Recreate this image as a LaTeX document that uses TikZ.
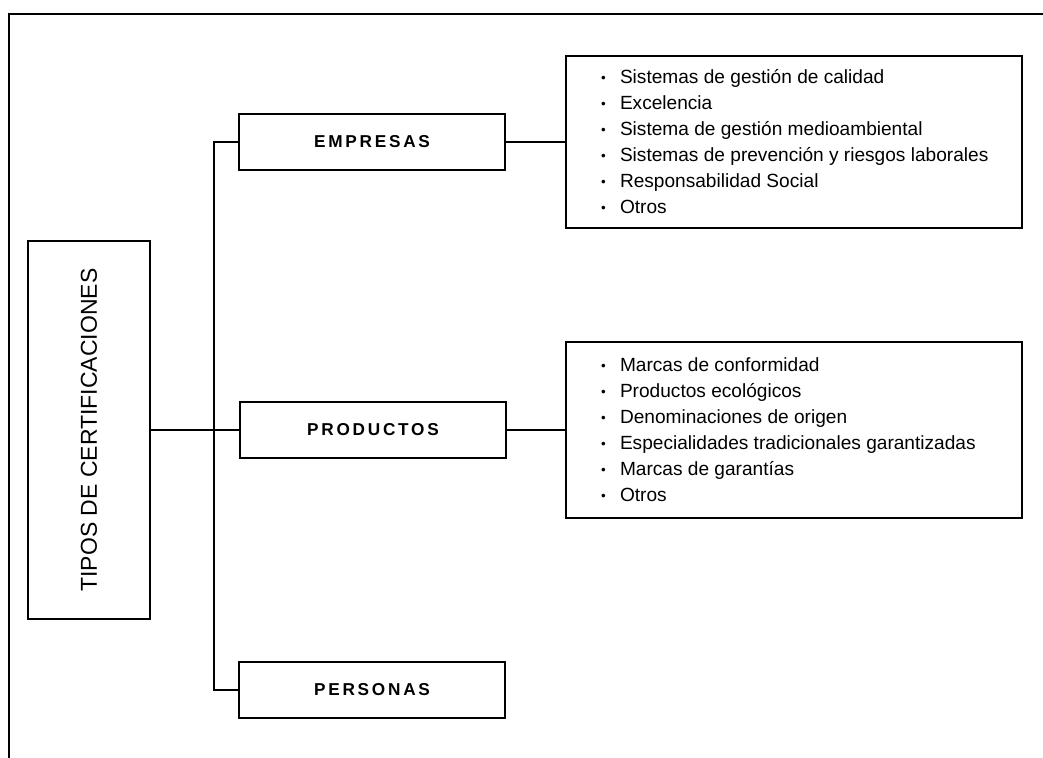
\documentclass[tikz,border=0pt]{standalone}
\usepackage{fontspec}
\setmainfont{Liberation Sans}
\newfontfamily\spacedfont[LetterSpace=16]{Liberation Sans}
\usepackage{tikz}
\usetikzlibrary{positioning}

\newcommand{\itm}{\hspace*{3pt}\makebox[9.5pt][l]{\raisebox{0.6pt}{\scalebox{0.7}{\textbullet}}}}

\begin{document}
\begin{tikzpicture}[
        x=0.5pt, y=-0.5pt,
        frame/.style={line width=1.4pt},
        root/.style={rectangle, draw, line width=1.1pt, rotate=90, minimum width=189pt, minimum height=61pt, font=\fontsize{11.5}{13}\selectfont},
        kind/.style={rectangle, draw, line width=1.1pt, minimum width=133pt, minimum height=28pt, font=\spacedfont\bfseries\fontsize{8.6}{10}\selectfont},
        list/.style={rectangle, draw, line width=1.1pt, minimum width=228pt, text width=199pt, inner xsep=14pt, align=flush left, font=\fontsize{9.55}{13}\selectfont},
        link/.style={line width=1.1pt}
    ]
        \useasboundingbox (0,0) rectangle (1043,758);
        % outer frame
        \draw[frame] (9,758) -- (9,14) -- (1043,14);

        % main boxes
        \node[root] (tipos) at (89,430) {TIPOS DE CERTIFICACIONES};
        \node[kind] (empresas) at (372,142) {EMPRESAS};
        \node[kind] (productos) at (373,430) {PRODUCTOS};
        \node[kind] (personas) at (372,690) {PERSONAS};

        % lists
        \node[list, minimum height=86pt] (listemp) at (794,142) {\itm Sistemas de gestión de calidad\\
            \itm Excelencia\\
            \itm Sistema de gestión medioambiental\\
            \itm Sistemas de prevención y riesgos laborales\\
            \itm Responsabilidad Social\\
            \itm Otros};
        \node[list, minimum height=88pt] (listprod) at (794,430) {\itm Marcas de conformidad\\
            \itm Productos ecológicos\\
            \itm Denominaciones de origen\\
            \itm Especialidades tradicionales garantizadas\\
            \itm Marcas de garantías\\
            \itm Otros};

        % connections
        \coordinate (bus) at (214,430);
        \draw[link] (empresas.west) -| (bus) |- (personas.west);
        \draw[link] (tipos.south) -- (productos.west);
        \draw[link] (empresas.east) -- (listemp.west);
        \draw[link] (productos.east) -- (listprod.west);
    \end{tikzpicture}
\end{document}
